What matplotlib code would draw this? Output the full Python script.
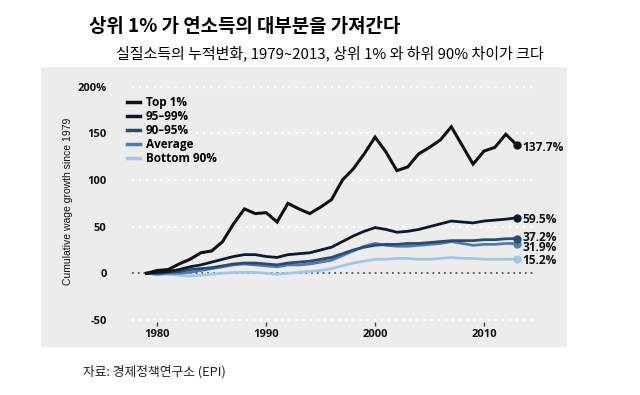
import numpy as np
import matplotlib
matplotlib.use("Agg")
import matplotlib.pyplot as plt
from matplotlib.patches import Rectangle

years = list(range(1979, 2014))
top1 = [0, 3, 4, 10, 15, 22, 24, 34, 53, 69, 64, 65, 55, 75, 69, 64, 71, 79, 100, 112,
        128, 146, 130, 110, 114, 128, 135, 143, 157, 137, 117, 131, 135, 149, 137.7]
p95_99 = [0, 1, 2, 4, 7, 9, 12, 15, 18, 20, 20, 18, 17, 20, 21, 22, 25, 28, 34, 40,
          45, 49, 47, 44, 45, 47, 50, 53, 56, 55, 54, 56, 57, 58, 59.5]
p90_95 = [0, 0, 1, 2, 4, 5, 6, 8, 10, 11, 11, 10, 9, 11, 12, 13, 15, 17, 21, 25,
          28, 30, 31, 31, 32, 32, 33, 34, 35, 35, 35, 36, 36, 37, 37.2]
average = [0, -1, 0, 0, 1, 3, 5, 7, 9, 10, 9, 8, 7, 9, 9, 10, 12, 14, 19, 24,
           29, 32, 30, 29, 29, 30, 31, 32, 34, 32, 30, 31, 31, 32, 31.9]
bottom90 = [0, -1, -1, -2, -3, -2, -1, 0, 1, 1, 1, 0, -1, 0, 1, 2, 3, 5, 8, 11,
            13, 15, 15, 16, 16, 15, 15, 16, 17, 16, 16, 15, 15, 15, 15.2]

labels = ["Top 1%", "95\u201399%", "90\u201395%", "Average", "Bottom 90%"]
end_labels = ["137.7%", "59.5%", "37.2%", "31.9%", "15.2%"]
colors = ["#111111", "#0c1a30", "#2b4b70", "#4d7cad", "#a3c6e8"]
widths = [2.2, 2.0, 2.0, 2.0, 2.0]

yticks = [-50, 0, 50, 100, 150, 200]
ytick_labels = ["-50", "0", "50", "100", "150", "200%"]
xticks = [1980, 1990, 2000, 2010]

W, H = 640, 395
fig = plt.figure(figsize=(W / 100, H / 100), dpi=100)
fig.patch.set_facecolor("white")

kr = ["Noto Sans CJK KR", "DejaVu Sans"]

# grey panel behind the chart
panel = Rectangle((41 / W, 1 - 347 / H), (567 - 41) / W, (347 - 67) / H,
                  transform=fig.transFigure, facecolor="#ececec",
                  edgecolor="none", zorder=-5)
fig.patches.append(panel)

fig.text(89 / W, 1 - 27 / H, "상위 1% 가 연소득의 대부분을 가져간다",
         family=kr, fontsize=13.6, fontweight="bold", va="center", ha="left")
fig.text(116 / W, 1 - 53 / H,
         "실질소득의 누적변화, 1979~2013, 상위 1% 와 하위 90% 차이가 크다",
         family=kr, fontsize=10.8, va="center", ha="left")
fig.text(83 / W, 1 - 372 / H, "자료: 경제정책연구소 (EPI)",
         family=kr, fontsize=9.2, va="center", ha="left", color="#222222")

x0, x1 = 131.7, 535
ylo, yhi = -52, 205
ppu = 0.933
y_bottom = 273.3 + (-ylo) * ppu
y_top = 273.3 - yhi * ppu
ax = fig.add_axes([x0 / W, 1 - y_bottom / H, (x1 - x0) / W, (y_bottom - y_top) / H])
ax.set_facecolor("none")
for s in ax.spines.values():
    s.set_visible(False)

xlo = 1979 + (x0 - 146.4) / 10.89
xhi = 1979 + (x1 - 146.4) / 10.89
ax.set_xlim(xlo, xhi)
ax.set_ylim(ylo, yhi)

for yv in yticks:
    if yv == 0:
        ax.axhline(yv, color="#555555", lw=1.3, ls=(0, (1, 2.2)), zorder=1)
    else:
        ax.axhline(yv, color="white", lw=1.6, ls=(0, (1, 2.2)), zorder=1)

series = [top1, p95_99, p90_95, average, bottom90]
order = [4, 3, 2, 1, 0]
for i in order:
    ax.plot(years, series[i], color=colors[i], lw=widths[i], label=labels[i],
            solid_joinstyle="miter", zorder=3 + (4 - i))
    ax.plot(years[-1], series[i][-1], "o", color=colors[i], ms=5, zorder=8)

offsets = [-2, -1, 1, -2.5, -1]
for i in range(5):
    t = ax.annotate(end_labels[i], (years[-1], series[i][-1]),
                    xytext=(4, offsets[i]), textcoords="offset points",
                    va="center", ha="left", fontsize=8.6, fontweight="bold",
                    family="Open Sans", color="#111111", annotation_clip=False)
    t.set_clip_path(panel)

ax.set_yticks(yticks)
ax.set_yticklabels(ytick_labels)
ax.set_xticks(xticks)
ax.tick_params(axis="y", length=0, pad=18)
ax.tick_params(axis="x", length=3, width=1, color="#444444", pad=2)
for lab in ax.get_xticklabels() + ax.get_yticklabels():
    lab.set_family("Open Sans")
    lab.set_fontweight("bold")
    lab.set_fontsize(8)
    lab.set_color("#111111")

fig.text(68 / W, 1 - 201 / H, "Cumulative wage growth since 1979",
         rotation=90, va="center", ha="center", fontsize=7.5,
         family="Liberation Sans", color="#111111")

handles, labs = ax.get_legend_handles_labels()
idx = [labs.index(l) for l in labels]
leg = ax.legend([handles[i] for i in idx], [labs[i] for i in idx],
                loc="upper left", bbox_to_anchor=(127 / W, 1 - 96 / H),
                bbox_transform=fig.transFigure, frameon=False,
                borderaxespad=0, borderpad=0, handlelength=1.1,
                handletextpad=0.5, labelspacing=0.08,
                prop={"family": "Open Sans", "weight": "bold", "size": 8.5})
for line in leg.get_lines():
    line.set_linewidth(2.5)

fig.savefig("out.png", dpi=100, facecolor="white")
